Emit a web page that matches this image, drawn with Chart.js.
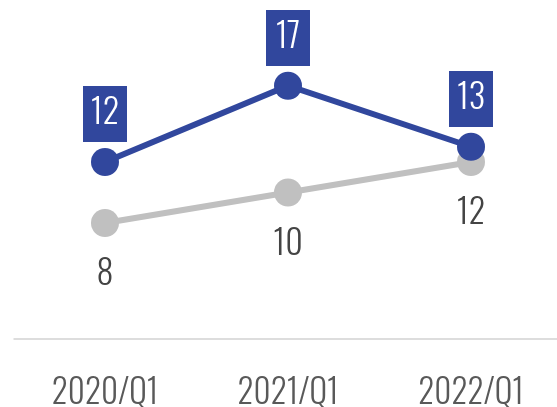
<!DOCTYPE html>
<html>
<head>
<meta charset="utf-8">
<script src="https://cdn.jsdelivr.net/npm/chart.js@4/dist/chart.umd.min.js"></script>
<style>
  html, body { margin: 0; padding: 0; background: #ffffff; }
  #wrap { width: 557px; height: 407px; }
</style>
</head>
<body>
<div id="wrap"><canvas id="chart" width="557" height="407"></canvas></div>
<script>
// Quarterly comparison, two series
const categories = ['2020/Q1', '2021/Q1', '2022/Q1'];
const seriesBlue = [12, 17, 13];
const seriesGray = [8, 10, 12];

const BLUE = '#31479d';
const GRAY = '#c0c0c0';
const FONT = "Oswald, 'Roboto Condensed', 'DejaVu Sans Condensed', sans-serif";

// Baseline rule under the plot: starts half a category left of the first
// point and runs to the right edge of the canvas
const baselinePlugin = {
  id: 'baseline',
  beforeDatasetsDraw(chart) {
    const { ctx, chartArea } = chart;
    const x = chart.scales.x;
    const half = (x.getPixelForValue(1) - x.getPixelForValue(0)) / 2;
    const y = chartArea.bottom - 6;
    ctx.save();
    ctx.strokeStyle = '#dddddd';
    ctx.lineWidth = 2;
    ctx.beginPath();
    ctx.moveTo(x.getPixelForValue(0) - half, y);
    ctx.lineTo(chart.width, y);
    ctx.stroke();
    ctx.restore();
  }
};

// Value labels: boxed above the blue points, plain below the gray points
const valueLabelPlugin = {
  id: 'valueLabels',
  afterDatasetsDraw(chart) {
    const { ctx } = chart;
    const drawText = (text, x, y, color) => {
      ctx.save();
      ctx.fillStyle = color;
      ctx.font = '300 34px ' + FONT;
      ctx.textAlign = 'center';
      ctx.textBaseline = 'middle';
      ctx.fillText(text, x, y);
      ctx.restore();
    };
    chart.data.datasets.forEach((ds, di) => {
      const meta = chart.getDatasetMeta(di);
      meta.data.forEach((pt, i) => {
        const label = String(ds.data[i]);
        if (ds.labelStyle === 'box') {
          const cy = pt.y - 48;
          const w = 44, h = 56;
          ctx.save();
          ctx.fillStyle = BLUE;
          ctx.fillRect(Math.round(pt.x - w / 2), Math.round(cy - h / 2), w, h);
          ctx.restore();
          drawText(label, pt.x, cy, '#ffffff');
        } else {
          drawText(label, pt.x, pt.y + 52, '#444444');
        }
      });
    });
  }
};

new Chart(document.getElementById('chart'), {
  type: 'line',
  data: {
    labels: categories,
    datasets: [
      {
        label: 'A',
        data: seriesBlue,
        borderColor: BLUE,
        backgroundColor: BLUE,
        borderWidth: 6,
        pointRadius: 14,
        pointHoverRadius: 14,
        pointBorderWidth: 0,
        tension: 0,
        order: 1,
        labelStyle: 'box'
      },
      {
        label: 'B',
        data: seriesGray,
        borderColor: GRAY,
        backgroundColor: GRAY,
        borderWidth: 6,
        pointRadius: 14,
        pointHoverRadius: 14,
        pointBorderWidth: 0,
        tension: 0,
        order: 2,
        labelStyle: 'plain'
      }
    ]
  },
  options: {
    responsive: false,
    animation: false,
    devicePixelRatio: 1,
    layout: { padding: { top: 40, left: 105, right: 86, bottom: 0 } },
    plugins: {
      legend: { display: false },
      tooltip: { enabled: false }
    },
    scales: {
      x: {
        offset: false,
        grid: { display: false, drawTicks: false },
        border: { display: false },
        ticks: {
          color: '#595959',
          padding: 29,
          maxRotation: 0,
          autoSkip: false,
          font: { family: FONT, size: 33, weight: 300 }
        },
        afterFit(scale) {
          scale.height = 62;
          scale.paddingLeft = 0;
          scale.paddingRight = 0;
        }
      },
      y: {
        display: false,
        min: 0,
        max: 20
      }
    }
  },
  plugins: [baselinePlugin, valueLabelPlugin]
});
</script>
</body>
</html>
